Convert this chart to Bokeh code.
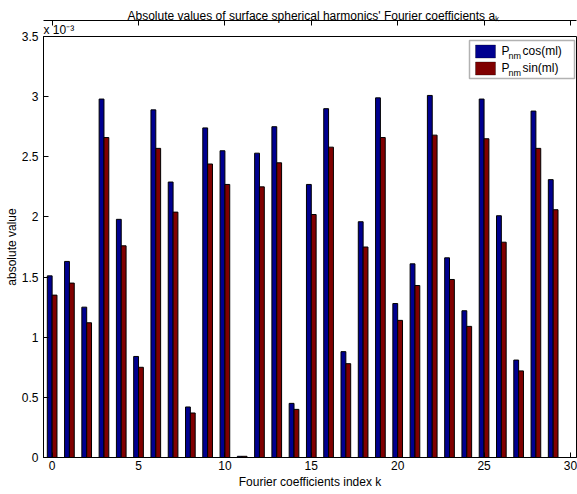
from bokeh.plotting import figure
from bokeh.models import (Label, BoxAnnotation, LinearAxis, FixedTicker, Range1d,
                          Title)
from bokeh.embed import file_html
from bokeh.resources import INLINE

# Fourier coefficient index
k = list(range(30))

# |a_k| for the cosine and sine parts, in units of 1e-3
cos_vals = [1.51, 1.63, 1.25, 2.98, 1.98, 0.84, 2.89, 2.29, 0.42, 2.74,
            2.55, 0.01, 2.53, 2.75, 0.45, 2.27, 2.90, 0.88, 1.96, 2.99,
            1.28, 1.61, 3.01, 1.66, 1.22, 2.98, 2.01, 0.81, 2.88, 2.31]
sin_vals = [1.35, 1.45, 1.12, 2.66, 1.76, 0.75, 2.57, 2.04, 0.37, 2.44,
            2.27, 0.01, 2.25, 2.45, 0.40, 2.02, 2.58, 0.78, 1.75, 2.66,
            1.14, 1.43, 2.68, 1.48, 1.09, 2.65, 1.79, 0.72, 2.57, 2.06]

x_ticks = [0, 5, 10, 15, 20, 25, 30]
y_ticks = [0, 0.5, 1, 1.5, 2, 2.5, 3, 3.5]
y_tick_labels = ["0", "0.5", "1", "1.5", "2", "2.5", "3", "3.5"]

series_names = ["cos(ml)", "sin(ml)"]
series_colors = ["#00008f", "#800000"]

FONT = "Liberation Sans"
W, H = 577, 494
BL, BR, BT, BB = 43, 1, 36, 37
XR = (-0.5, 30.35)
YR = (0.0, 3.5)

p = figure(width=W, height=H, output_backend="svg", toolbar_location=None,
           x_range=Range1d(*XR), y_range=Range1d(*YR),
           min_border_left=BL, min_border_right=BR,
           min_border_top=BT, min_border_bottom=BB)
p.background_fill_color = "white"
p.border_fill_color = "white"
p.outline_line_color = "black"
p.outline_line_width = 1
p.xgrid.visible = False
p.ygrid.visible = False

# title: a_k with a subscript k
p.title.text = "Absolute values of surface spherical harmonics' Fourier coefficients a\u2096"
p.title.text_font = FONT
p.title.text_font_size = "12px"
p.title.text_font_style = "normal"
p.title.text_color = "black"
p.title.align = "left"
p.title.offset = 84
p.title.standoff = -4

# exponent of the y axis, just above the top-left corner of the box
p.add_layout(Title(text="x 10\u207b\u00b3", text_font=FONT, text_font_size="12px",
                   text_font_style="normal", text_color="black", align="left",
                   standoff=0), "above")

# frame pixel geometry -> data coordinates, for decorations placed by pixel
FX0, FX1 = BL, W - BR
FY0, FY1 = BT, H - BB


def px_x(px):
    return XR[0] + (px - FX0) / (FX1 - FX0) * (XR[1] - XR[0])


def px_y(py):
    return YR[1] - (py - FY0) / (FY1 - FY0) * (YR[1] - YR[0])


# grouped bars
bw = 0.28
p.vbar(x=[v - bw / 2 for v in k], top=cos_vals, width=bw, bottom=0,
       fill_color=series_colors[0], line_color="black", line_width=1)
p.vbar(x=[v + bw / 2 for v in k], top=sin_vals, width=bw, bottom=0,
       fill_color=series_colors[1], line_color="black", line_width=1)


def style_axis(ax):
    ax.major_tick_in = 5
    ax.major_tick_out = 0
    ax.minor_tick_line_color = None
    ax.axis_line_color = "black"
    ax.major_tick_line_color = "black"
    ax.major_label_text_font = FONT
    ax.major_label_text_font_size = "12px"
    ax.major_label_text_color = "black"
    ax.axis_label_text_font = FONT
    ax.axis_label_text_font_size = "12px"
    ax.axis_label_text_font_style = "normal"
    ax.axis_label_text_color = "black"


xa = p.xaxis[0]
style_axis(xa)
xa.ticker = FixedTicker(ticks=x_ticks)
xa.axis_label = "Fourier coefficients index k"
xa.major_label_standoff = 3
xa.axis_label_standoff = 2

ya = p.yaxis[0]
style_axis(ya)
ya.ticker = FixedTicker(ticks=y_ticks)
ya.major_label_overrides = {t: s for t, s in zip(y_ticks, y_tick_labels)}
ya.axis_label = "absolute value"
ya.major_label_standoff = 5
ya.axis_label_standoff = 0

# tick marks along the top edge of the box
top_ax = LinearAxis(ticker=FixedTicker(ticks=x_ticks))
style_axis(top_ax)
top_ax.major_label_overrides = {t: "" for t in x_ticks}
top_ax.major_label_standoff = 0
p.add_layout(top_ax, "above")


def text(s, px, py, size="12px", align="left"):
    p.add_layout(Label(x=px_x(px), y=px_y(py), text=s, text_font=FONT,
                       text_font_size=size, text_color="black",
                       text_align=align, text_baseline="middle",
                       level="overlay"))


# legend box and swatches
p.add_layout(BoxAnnotation(left=px_x(469), right=px_x(574), top=px_y(40),
                           bottom=px_y(78), fill_color="white", fill_alpha=1,
                           line_color="black", line_width=1.5, level="overlay"))
rows = [51, 68]
for color, cy in zip(series_colors, rows):
    p.add_layout(BoxAnnotation(left=px_x(475), right=px_x(495),
                               top=px_y(cy - 6.5), bottom=px_y(cy + 6.5),
                               fill_color=color, fill_alpha=1,
                               line_color="black", line_width=1,
                               level="overlay"))

# legend texts
for name, cy in zip(series_names, rows):
    text("P", 501, cy - 1)
    text("nm", 508, cy + 4, "9px")
    text(name, 522, cy - 1)

open("out.html", "w").write(file_html(p, INLINE))
